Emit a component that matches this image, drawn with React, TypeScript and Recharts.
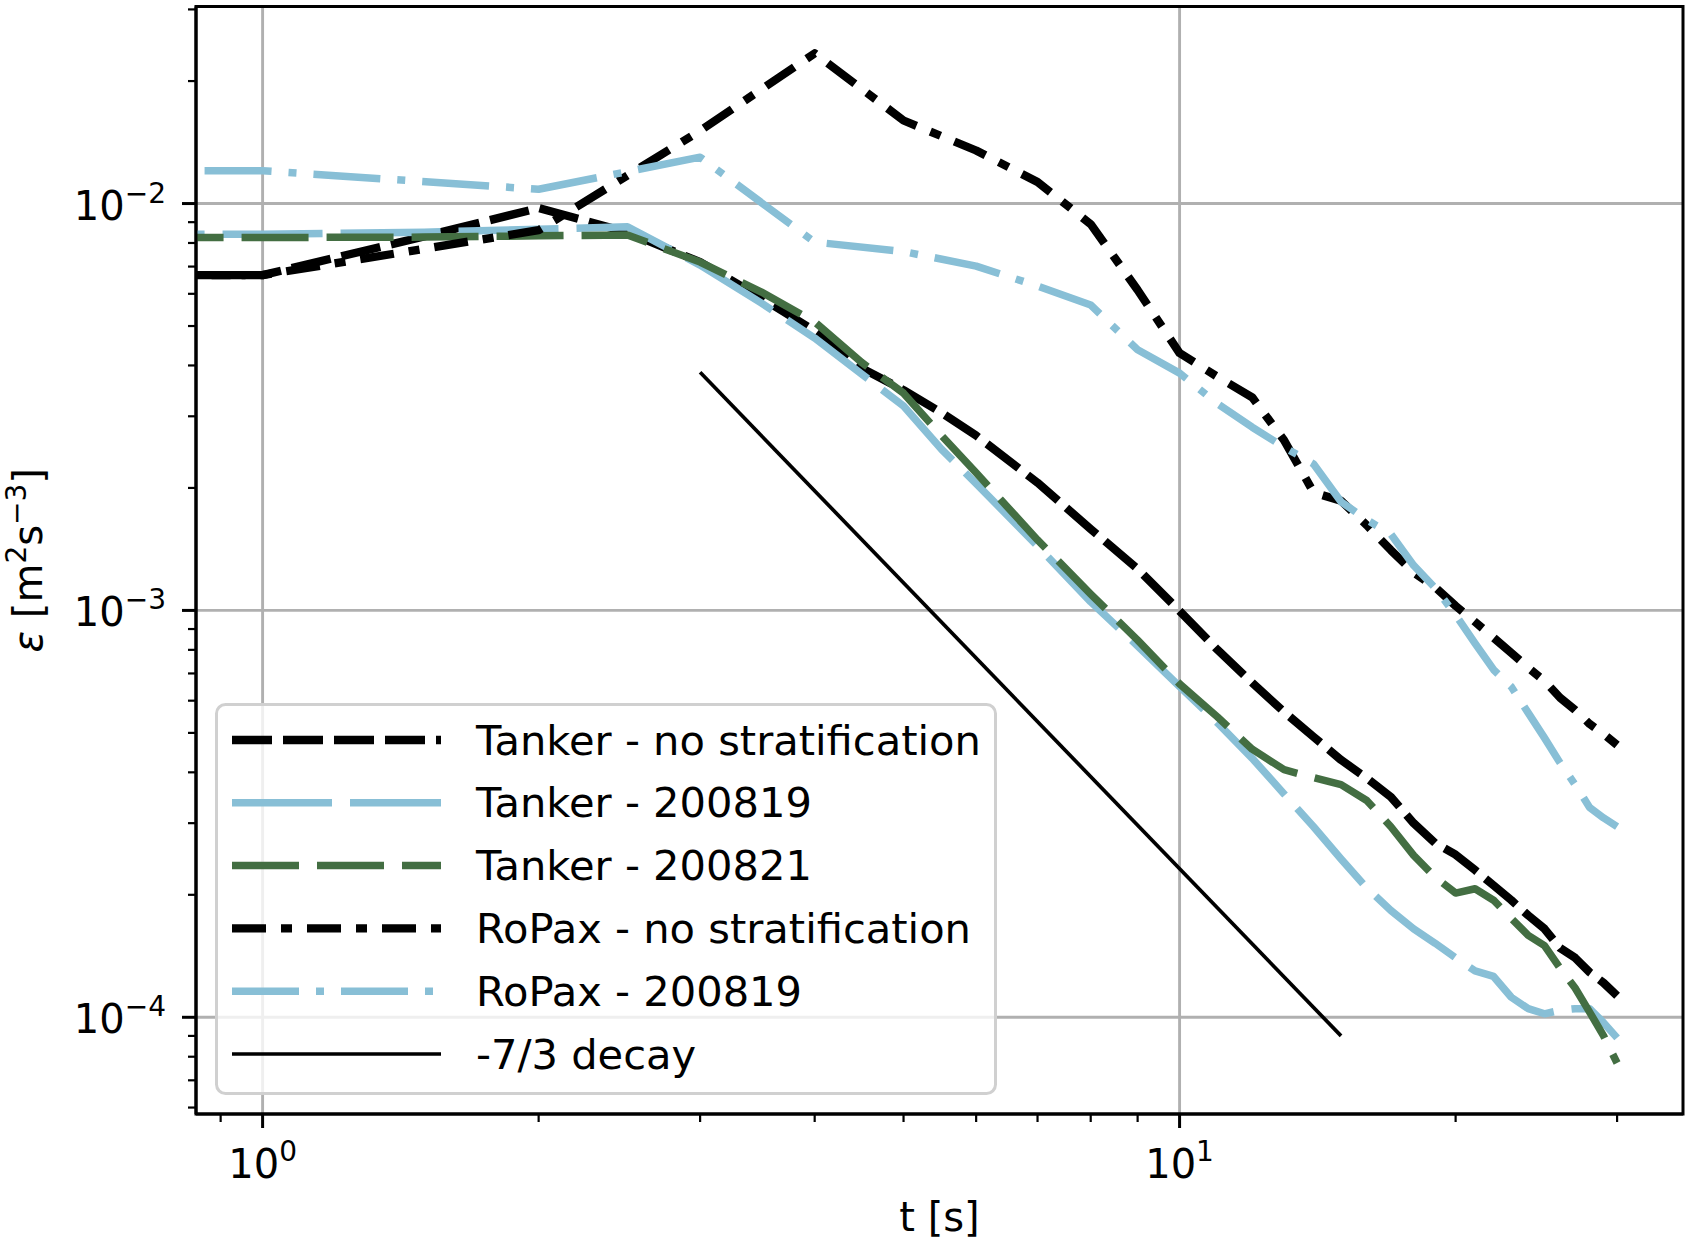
import React from 'react'
import { LineChart, Line, XAxis, YAxis, CartesianGrid, Legend, ReferenceArea } from 'recharts'

const FONT = '"DejaVu Sans", sans-serif'

// time samples; the first entry stands for the sample left of the visible range
const tankerTimes = [0.5, 1, 1.5, 2, 2.5, 3, 3.5, 4, 4.5, 5, 5.5, 6, 7, 8, 9, 10, 11, 12, 13, 14, 15, 16, 17, 18, 19, 20, 21, 22, 23, 24, 25, 26, 27, 28, 29, 30]
const ropaxTimes = [0.5, 1, 2, 3, 4, 5, 6, 7, 8, 9, 10, 11, 12, 13, 14, 15, 16, 17, 18, 19, 20, 21, 22, 23, 24, 25, 26, 27, 28, 29, 30]
const decayTimes = [3, 15]

const tankerNoStrat = [
  6.67e-3, 6.67e-3, 8.3e-3, 9.75e-3, 8.5e-3, 7.18e-3, 5.86e-3, 4.86e-3, 3.94e-3, 3.48e-3, 3.06e-3, 2.69e-3,
  2.06e-3, 1.585e-3, 1.265e-3, 9.97e-4, 8.0e-4, 6.64e-4, 5.63e-4, 4.89e-4, 4.29e-4, 3.87e-4, 3.48e-4, 3.0e-4,
  2.68e-4, 2.51e-4, 2.3e-4, 2.11e-4, 1.94e-4, 1.78e-4, 1.65e-4, 1.48e-4, 1.4e-4, 1.29e-4, 1.215e-4, 1.13e-4,
]
const tanker200819 = [
  8.41e-3, 8.41e-3, 8.5e-3, 8.65e-3, 8.77e-3, 7.06e-3, 5.69e-3, 4.67e-3, 3.81e-3, 3.18e-3, 2.49e-3, 2.05e-3,
  1.44e-3, 1.05e-3, 8.18e-4, 6.5e-4, 5.29e-4, 4.33e-4, 3.54e-4, 2.94e-4, 2.45e-4, 2.08e-4, 1.83e-4, 1.65e-4,
  1.52e-4, 1.4e-4, 1.3e-4, 1.26e-4, 1.12e-4, 1.05e-4, 1.02e-4, 1.04e-4, 1.05e-4, 1.05e-4, 9.7e-5, 8.9e-5,
]
const tanker200821 = [
  8.25e-3, 8.25e-3, 8.27e-3, 8.33e-3, 8.37e-3, 7.18e-3, 6.06e-3, 5.12e-3, 4.07e-3, 3.42e-3, 2.69e-3, 2.18e-3,
  1.49e-3, 1.097e-3, 8.45e-4, 6.6e-4, 5.47e-4, 4.56e-4, 4.06e-4, 3.88e-4, 3.73e-4, 3.41e-4, 2.94e-4, 2.5e-4,
  2.21e-4, 2.02e-4, 2.07e-4, 1.94e-4, 1.75e-4, 1.59e-4, 1.5e-4, 1.32e-4, 1.18e-4, 1.03e-4, 9.0e-5, 7.72e-5,
]
const ropaxNoStrat = [
  6.67e-3, 6.67e-3, 8.6e-3, 1.51e-2, 2.34e-2, 1.6e-2, 1.35e-2, 1.13e-2, 8.9e-3, 6.13e-3, 4.29e-3,
  3.75e-3, 3.34e-3, 2.62e-3, 1.95e-3, 1.86e-3, 1.62e-3, 1.406e-3, 1.24e-3, 1.14e-3, 1.026e-3,
  9.37e-4, 8.57e-4, 7.86e-4, 7.23e-4, 6.71e-4, 6.1e-4, 5.69e-4, 5.26e-4, 4.97e-4, 4.67e-4,
]
const ropax200819 = [
  1.204e-2, 1.204e-2, 1.084e-2, 1.3e-2, 8.04e-3, 7.62e-3, 7.02e-3, 6.27e-3, 5.63e-3, 4.37e-3, 3.83e-3,
  3.22e-3, 2.82e-3, 2.52e-3, 2.29e-3, 1.85e-3, 1.67e-3, 1.54e-3, 1.29e-3, 1.135e-3, 9.75e-4,
  8.3e-4, 7.15e-4, 6.49e-4, 5.6e-4, 4.86e-4, 4.22e-4, 3.73e-4, 3.28e-4, 3.09e-4, 2.94e-4,
]
const decayValues = [3.85e-3, 9.0e-5]

const xTicks = [0.9, 1, 2, 3, 4, 5, 6, 7, 8, 9, 10, 20, 30]
const yTicks = [
  6e-5, 7e-5, 8e-5, 9e-5, 1e-4, 2e-4, 3e-4, 4e-4, 5e-4, 6e-4, 7e-4, 8e-4, 9e-4,
  1e-3, 2e-3, 3e-3, 4e-3, 5e-3, 6e-3, 7e-3, 8e-3, 9e-3, 1e-2, 2e-2, 3e-2,
]
const xGrid = [1, 10]
const yGrid = [1e-4, 1e-3, 1e-2]

const xDomain = [0.846, 35.4]
const yDomain = [5.785e-5, 0.0305]

const series = [
  { name: 'Tanker - no stratification', times: tankerTimes, values: tankerNoStrat, color: '#000000', width: 8.3, dash: '40 11' },
  { name: 'Tanker - 200819', times: tankerTimes, values: tanker200819, color: '#88bfd6', width: 7.5, dash: '100 18' },
  { name: 'Tanker - 200821', times: tankerTimes, values: tanker200821, color: '#436e42', width: 7.5, dash: '67 18' },
  { name: 'RoPax - no stratification', times: ropaxTimes, values: ropaxNoStrat, color: '#000000', width: 8.3, dash: '34 15 11 15' },
  { name: 'RoPax - 200819', times: ropaxTimes, values: ropax200819, color: '#88bfd6', width: 7.5, dash: '67 17 8 17' },
  { name: '-7/3 decay', times: decayTimes, values: decayValues, color: '#000000', width: 3.7, dash: undefined },
]

const toPoints = (times: number[], values: number[]) => times.map((t, i) => ({ t, v: values[i] }))

const isMajor = (v: number) => Math.abs(Math.log10(v) - Math.round(Math.log10(v))) < 1e-6
const expLabel = (v: number) => {
  const e = Math.round(Math.log10(v))
  return e < 0 ? `\u2212${-e}` : String(e)
}

const XTick = ({ x, y, payload }: any) => {
  const major = isMajor(payload.value)
  return (
    <g>
      <line x1={x} x2={x} y1={y} y2={y + (major ? 14 : 8)} stroke="#000" strokeWidth={major ? 3 : 2.2} />
      {major && (
        <text x={x} y={y + 64} textAnchor="middle" fontSize={40} fontFamily={FONT} fill="#000">
          10<tspan dy={-17} fontSize={28}>{expLabel(payload.value)}</tspan>
        </text>
      )}
    </g>
  )
}

const YTick = ({ x, y, payload }: any) => {
  const major = isMajor(payload.value)
  return (
    <g>
      <line x1={x} x2={x - (major ? 14 : 8)} y1={y} y2={y} stroke="#000" strokeWidth={major ? 3 : 2.2} />
      {major && (
        <text x={x - 30} y={y + 16} textAnchor="end" fontSize={40} fontFamily={FONT} fill="#000">
          10<tspan dy={-17} fontSize={28}>{expLabel(payload.value)}</tspan>
        </text>
      )}
    </g>
  )
}

const XTitle = ({ viewBox }: any) => {
  const vb = viewBox ?? { x: 196, y: 1114, width: 1487 }
  return (
    <text x={vb.x + vb.width / 2} y={vb.y + 117} textAnchor="middle" fontSize={40} fontFamily={FONT} fill="#000">
      t [s]
    </text>
  )
}

const YTitle = ({ viewBox }: any) => {
  const vb = viewBox ?? { x: 6, y: 6.5, height: 1107.5 }
  const cx = vb.x + 36
  const cy = vb.y + vb.height / 2
  return (
    <text transform={`translate(${cx},${cy}) rotate(-90)`} textAnchor="middle" fontSize={40} fontFamily={FONT} fill="#000">
      <tspan fontStyle="italic">ε</tspan> [m<tspan dy={-16} fontSize={28}>2</tspan>
      <tspan dy={16}>s</tspan>
      <tspan dy={-16} fontSize={28}>−3</tspan>
      <tspan dy={16}>]</tspan>
    </text>
  )
}

const LegendBox = ({ payload }: any) => {
  const names = (payload ?? []).map((p: any) => p.value)
  const rows = series.filter((s) => names.length === 0 || names.includes(s.name))
  return (
    <svg width={782} height={392} style={{ display: 'block' }}>
      <rect x={1.5} y={1.5} width={779} height={389} rx={9} fill="#ffffff" fillOpacity={0.8} stroke="#d0d0d0" strokeWidth={3} />
      {rows.map((s, i) => {
        const cy = 37 + i * 62.8
        return (
          <g key={s.name}>
            <line x1={17} x2={226} y1={cy} y2={cy} stroke={s.color} strokeWidth={s.width} strokeDasharray={s.dash} />
            <text x={261} y={cy + 14.5} fontSize={41.6} fontFamily={FONT} fill="#000">
              {s.name}
            </text>
          </g>
        )
      })}
    </svg>
  )
}

export default function App() {
  return (
    <div style={{ position: 'absolute', left: 0, top: 0, width: 1688, height: 1248, background: '#fff' }}>
      <LineChart width={1688} height={1248} margin={{ top: 6.5, right: 5, bottom: 14, left: 6 }}>
        <CartesianGrid horizontalValues={yGrid} verticalValues={xGrid} stroke="#b0b0b0" strokeWidth={2.9} />
        <XAxis
          dataKey="t"
          type="number"
          scale="log"
          domain={xDomain}
          allowDataOverflow
          ticks={xTicks}
          interval={0}
          height={120}
          tickSize={0}
          tickMargin={0}
          tickLine={false}
          axisLine={{ stroke: '#000', strokeWidth: 3 }}
          tick={<XTick />}
          label={<XTitle />}
        />
        <YAxis
          type="number"
          scale="log"
          domain={yDomain}
          allowDataOverflow
          ticks={yTicks}
          interval={0}
          width={190}
          tickSize={0}
          tickMargin={0}
          tickLine={false}
          axisLine={{ stroke: '#000', strokeWidth: 3 }}
          tick={<YTick />}
          label={<YTitle />}
        />
        {series.map((s) => (
          <Line
            key={s.name}
            name={s.name}
            data={toPoints(s.times, s.values)}
            dataKey="v"
            type="linear"
            stroke={s.color}
            strokeWidth={s.width}
            strokeDasharray={s.dash}
            strokeLinejoin="round"
            dot={false}
            activeDot={false}
            legendType="line"
            isAnimationActive={false}
          />
        ))}
        {/* axes frame (top and right spines) */}
        <ReferenceArea
          x1={xDomain[0]}
          x2={xDomain[1]}
          y1={yDomain[0]}
          y2={yDomain[1]}
          ifOverflow="visible"
          fill="none"
          fillOpacity={0}
          stroke="#000"
          strokeWidth={3}
        />
        <Legend
          layout="horizontal"
          verticalAlign="middle"
          align="center"
          width={782}
          height={392}
          wrapperStyle={{ left: 215, top: 703, width: 782, height: 392, lineHeight: 0 }}
          content={<LegendBox />}
        />
      </LineChart>
    </div>
  )
}
